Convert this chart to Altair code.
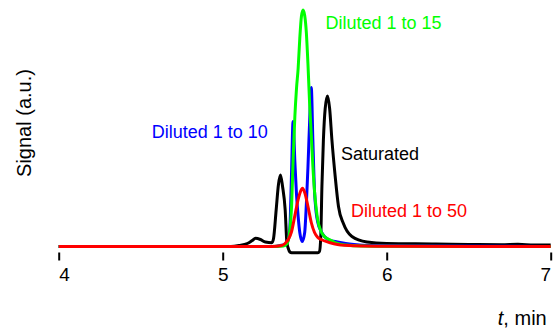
import altair as alt
import pandas as pd

# ---- data (t in min, signal in arbitrary units) ----
black_t = [4.00, 5.05, 5.10, 5.15, 5.18, 5.20, 5.23, 5.26, 5.30, 5.31, 5.326, 5.34, 5.352,
           5.365, 5.381, 5.391, 5.40, 5.41, 5.42, 5.58, 5.59, 5.598, 5.605, 5.614, 5.625,
           5.639, 5.652, 5.666, 5.686, 5.706, 5.736, 5.788, 5.88, 6.00, 6.30, 6.50, 6.70,
           6.80, 6.90, 7.00]
black_s = [0, 0, 1, 3, 6, 8.2, 7, 4.5, 3.8, 8, 36.5, 62, 71.5,
           60, 36.5, 4.8, -2, -5.5, -6.2, -6.2, -5, 10, 60, 106.5, 138,
           150.5, 138, 106.5, 70, 40, 23, 10, 4.5, 3, 2.5, 2, 1.8,
           2.2, 1.5, 1.5]

blue_t = [4.00, 5.30, 5.35, 5.38, 5.40, 5.41, 5.42, 5.429, 5.44, 5.45, 5.46, 5.47, 5.485,
          5.50, 5.51, 5.52, 5.53, 5.54, 5.55, 5.56, 5.57, 5.58, 5.60, 5.62, 5.65, 5.70,
          5.75, 5.80, 5.90, 6.20, 7.00]
blue_s = [0, 0, 1, 2, 7, 20, 75, 125, 85, 52, 30, 14, 5,
          14, 42, 80, 125, 159, 105, 55, 34, 24, 15, 10, 6.5, 4.5,
          3, 2, 1, 0.5, 0]

green_t = [4.00, 5.30, 5.37, 5.39, 5.40, 5.41, 5.42, 5.43, 5.44, 5.45, 5.46, 5.47, 5.48,
           5.49, 5.50, 5.51, 5.52, 5.53, 5.54, 5.55, 5.56, 5.57, 5.58, 5.60, 5.62, 5.65,
           5.70, 5.75, 5.85, 6.00, 7.00]
green_s = [0, 0, 0.5, 2.5, 6, 17, 40, 90, 130, 158, 178, 208, 230,
           236.5, 231, 214, 182, 143, 112, 80, 55, 38, 26, 15, 10, 7,
           3, 1.5, 0.5, 0.2, 0]

red_t = [4.00, 5.30, 5.36, 5.38, 5.40, 5.42, 5.44, 5.46, 5.48, 5.486, 5.50, 5.52, 5.54,
         5.56, 5.58, 5.60, 5.65, 5.70, 5.80, 6.00, 7.00]
red_s = [0, 0, 1, 3, 7, 15, 31, 47, 57, 58.2, 54, 40, 24,
         14, 9, 7, 4, 2, 0.8, 0.3, 0]

label_text = ["Diluted 1 to 15", "Diluted 1 to 10", "Saturated", "Diluted 1 to 50"]
label_t = [5.627, 4.567, 5.721, 5.782]
label_s = [218, 108.2, 86.5, 29.2]
label_color = ["#00ff00", "#0000ff", "#000000", "#ff0000"]

x_ticks = [4, 5, 6, 7]

FONT = "Liberation Sans"

x_enc = alt.X(
    "t:Q",
    scale=alt.Scale(domain=[4, 7], nice=False, zero=False),
    axis=alt.Axis(values=x_ticks, title=None, domain=False, grid=False, tickSize=8,
                  tickWidth=2, tickColor="black", labelFont=FONT, labelFontSize=19,
                  labelColor="black", labelPadding=5, format="d"),
)
y_enc = alt.Y(
    "s:Q",
    scale=alt.Scale(domain=[-5.5, 241.5], nice=False, zero=False),
    axis=alt.Axis(title="Signal (a.u.)", labels=False, ticks=False, domain=False, grid=False,
                  titleFont=FONT, titleFontSize=20, titleFontWeight="normal",
                  titleColor="black", titleX=-28.7, titleY=117.5,
                  titleBaseline="alphabetic", titleAngle=270),
)


def line(t, s, color):
    df = pd.DataFrame({"t": t, "s": s})
    return alt.Chart(df).mark_line(color=color, strokeWidth=3, interpolate="monotone",
                                   clip=False).encode(x=x_enc, y=y_enc)


lines = [
    line(black_t, black_s, "#000000"),
    line(blue_t, blue_s, "#0000ff"),
    line(green_t, green_s, "#00ff00"),
    line(red_t, red_s, "#ff0000"),
]

labels_df = pd.DataFrame({"t": label_t, "s": label_s, "text": label_text, "c": label_color})
labels = alt.Chart(labels_df).mark_text(align="left", baseline="alphabetic", font=FONT,
                                        fontSize=18).encode(
    x=alt.X("t:Q"), y=alt.Y("s:Q"), text="text:N", color=alt.Color("c:N", scale=None)
)

one = pd.DataFrame({"a": [0]})
xt_t = alt.Chart(one).mark_text(align="right", baseline="alphabetic", font=FONT, fontSize=20,
                                fontStyle="italic", color="black").encode(
    x=alt.value(444.5), y=alt.value(320), text=alt.value("t"))
xt_rest = alt.Chart(one).mark_text(align="right", baseline="alphabetic", font=FONT, fontSize=20,
                                   color="black").encode(
    x=alt.value(488), y=alt.value(320), text=alt.value(", min"))

chart = alt.layer(*lines, labels, xt_t, xt_rest).properties(
    width=492, height=247,
    padding={"left": 58.7, "top": 5, "right": 2.3, "bottom": 77},
    autosize=alt.AutoSizeParams(type="none"),
).configure_view(stroke=None)

chart.save("out.html", embed_options={"renderer": "svg", "actions": False})
